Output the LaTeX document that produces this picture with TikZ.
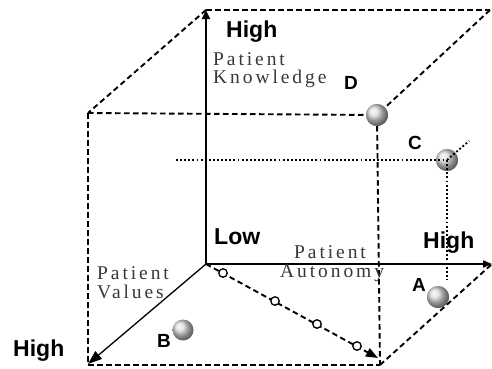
\documentclass[tikz,border=0pt]{standalone}
\usepackage{fontspec}
\setmainfont{Liberation Serif}
\newfontfamily\labfont{Liberation Sans}
\usetikzlibrary{arrows.meta,shadings}
\definecolor{txtgray}{RGB}{55,55,55}
\tikzset{
  boxline/.style={line width=1.9pt, dash pattern=on 5.5pt off 3.5pt},
  dotline/.style={line width=1.9pt, dash pattern=on 1.9pt off 2.2pt},
  axis/.style={line width=1.5pt},
  ballnode/.style={circle, inner sep=0pt, minimum size=22pt, shading=ball, ball color=gray!28!white},
  hop/.style={circle, draw, fill=white, line width=1.3pt, inner sep=0pt, minimum size=8.5pt},
  biglab/.style={anchor=base west, inner sep=0pt, font=\labfont\bfseries\fontsize{23}{23}\selectfont},
  letlab/.style={anchor=base west, inner sep=0pt, font=\labfont\bfseries\fontsize{19}{19}\selectfont},
  axlab/.style={anchor=base west, inner sep=0pt, text=txtgray, font=\addfontfeatures{LetterSpace=15}\fontsize{19.5}{19.5}\selectfont},
}
\begin{document}
\begin{tikzpicture}[x=1pt,y=-1pt]
\useasboundingbox (0,0) rectangle (492,368);
% corners and axis ends
\coordinate (O) at (206,264);
\coordinate (ztop) at (206,10);
\coordinate (xend) at (492,264);
\coordinate (yend) at (88,364);
\coordinate (btr) at (490,10);
\coordinate (ftl) at (88,113);
\coordinate (fbl) at (88,365);
\coordinate (fbr) at (380,365);
\coordinate (dtip) at (378,358);
\coordinate (cl) at (176,160);
\coordinate (ctr) at (469,141);
\coordinate (cb) at (447,279);
% balls (positions)
\node[ballnode] (D) at (377,115) {};
\node[ballnode] (C) at (447,160) {};
\node[ballnode] (A) at (438,297) {};
\node[ballnode, minimum size=21pt] (B) at (183,330) {};
% box edges
\draw[boxline] (ztop) -- (btr);
\draw[boxline] (btr) -- (D);
\draw[boxline] (ztop) -- (ftl);
\draw[boxline] (ftl) -- (D);
\draw[boxline] (ftl) -- (fbl);
\draw[boxline] (fbl) -- (fbr);
\draw[boxline] (D) -- (fbr);
\draw[boxline] (fbr) -- (xend);
% axes
\draw[line width=2.3pt, -{Triangle[length=9pt,width=8pt]}] (O) -- (ztop);
\draw[axis, -{Triangle[length=9pt,width=7pt]}] (O) -- (xend);
\draw[line width=1.3pt, -{Triangle[length=14pt,width=10pt]}] (O) -- (yend);
% path with hops
\draw[boxline, -{Triangle[length=12pt,width=9pt]}] (O) -- (dtip);
\node[hop] (h1) at (223,273) {};
\node[hop] (h2) at (275,301) {};
\node[hop] (h3) at (317,324) {};
\node[hop] (h4) at (357,346) {};
% redraw balls on top
\node[ballnode] at (D.center) {};
\node[ballnode] at (A.center) {};
\node[ballnode] at (C.center) {};
% dotted guides for C
\draw[dotline] (cl) -- (C.center);
\draw[dotline] (C.center) -- (ctr);
\draw[dotline] (C.center) -- (cb);
% labels
\node[biglab] (hz) at (226,37) {High};
\node[axlab] (pk1) at (213,65) {Patient};
\node[axlab] (pk2) at (213,83) {Knowledge};
\node[letlab] (lD) at (344,89) {D};
\node[letlab] (lC) at (408,149) {C};
\node[biglab] (lo) at (214,244) {Low};
\node[axlab] (pa1) at (294,258) {Patient};
\node[axlab] (pa2) at (280,277) {Autonomy};
\node[biglab] (hx) at (423,248) {High};
\node[letlab] (lA) at (412,291) {A};
\node[axlab] (pv1) at (97,279) {Patient};
\node[axlab] (pv2) at (97,298) {Values};
\node[biglab] (hy) at (13,356) {High};
\node[letlab] (lB) at (157,347) {B};
\end{tikzpicture}
\end{document}
